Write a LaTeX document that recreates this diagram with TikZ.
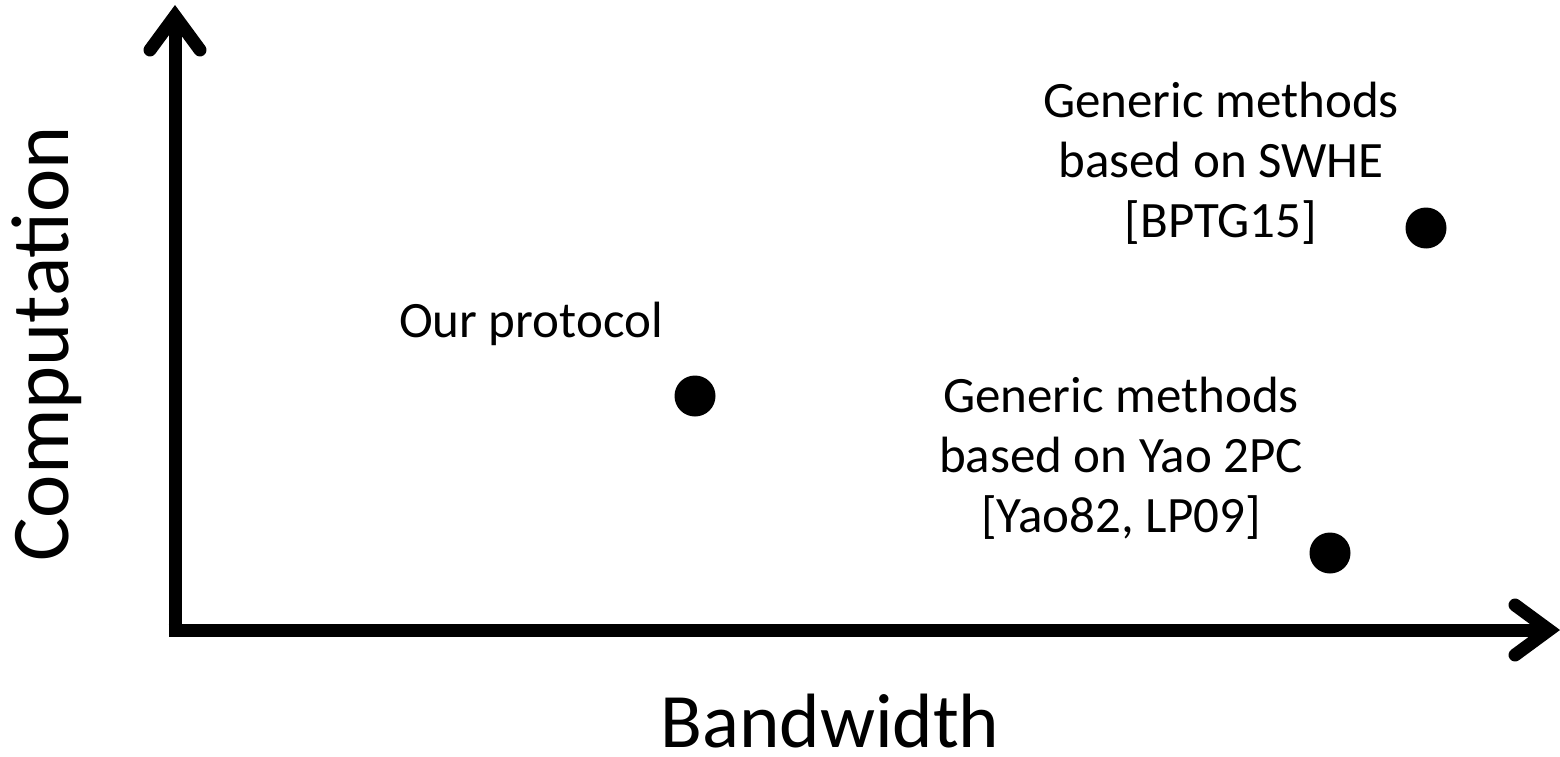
\documentclass[tikz,border=0pt]{standalone}
\usepackage{fontspec}
\setmainfont{Carlito}
\usetikzlibrary{arrows.meta}

\tikzset{
  axis/.style={line width=13pt, line cap=butt, line join=miter,
    -{Straight Barb[length=34pt, width=50pt, line cap=round, line join=miter]}},
  dot/.style={circle, fill=black, inner sep=0pt, minimum size=41pt},
  biglabel/.style={inner sep=0pt},
  pointlabel/.style={inner sep=0pt, align=center, anchor=base,
    font=\fontsize{51}{60}\selectfont},
}

\begin{document}
\begin{tikzpicture}[x=1pt, y=-1pt]
  \useasboundingbox (0,0) rectangle (1560,757);

  % axes
  \coordinate (origin) at (175,630);
  \coordinate (ytip) at (175,5);
  \coordinate (xtip) at (1560,630);
  \draw[axis] ([yshift=6.5pt]origin) -- (ytip);
  \draw[axis] ([xshift=-6.5pt]origin) -- (xtip);

  % axis titles
  \node[biglabel, font=\fontsize{82}{98}\selectfont, rotate=90, anchor=base]
    (ylab) at (68,344) {Computation};
  \node[biglabel, font=\fontsize{77}{92}\selectfont, anchor=base]
    (xlab) at (830,747) {Bandwidth};

  % data points
  \node[dot] (ours) at (695,396) {};
  \node[dot] (swhe) at (1426,228) {};
  \node[dot] (yao) at (1330,553) {};

  % point labels (anchored at the baseline of the last line)
  \node[pointlabel] (ourslab) at (531,337) {Our protocol};
  \node[pointlabel] (swhelab) at (1221,237) {Generic methods\\based on SWHE\\{[BPTG15]}};
  \node[pointlabel] (yaolab) at (1121,532) {Generic methods\\based on Yao 2PC\\{[Yao82, LP09]}};
\end{tikzpicture}
\end{document}
